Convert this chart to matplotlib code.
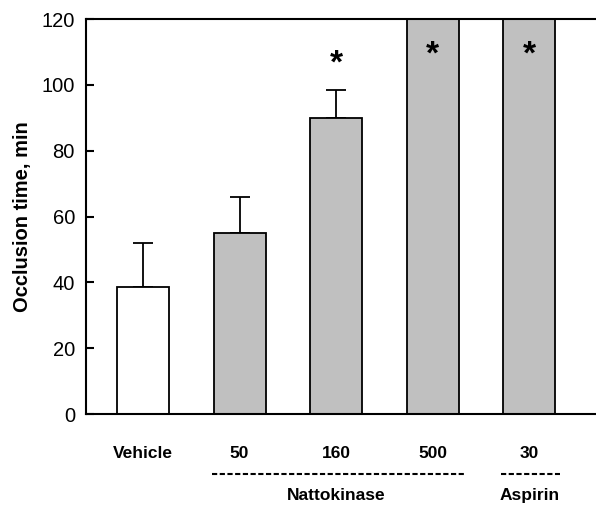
import matplotlib.pyplot as plt
import matplotlib.transforms as mtransforms

plt.rcParams['font.family'] = ['Liberation Sans', 'DejaVu Sans']

labels = ['Vehicle', '50', '160', '500', '30']
values = [38.5, 55, 90, 120, 120]
errors = [13.5, 11, 8.5, 0, 0]
colors = ['white', '#c0c0c0', '#c0c0c0', '#c0c0c0', '#c0c0c0']
significant = [False, False, True, True, True]
groups = [('Nattokinase', 1, 3), ('Aspirin', 4, 4)]

fig = plt.figure(figsize=(5.96, 5.07), dpi=100)
ax = fig.add_axes([0.1443, 0.1834, 0.8557, 0.779])

x = list(range(len(values)))
ax.bar(x, values, width=0.54, color=colors, edgecolor='black', linewidth=1.3, zorder=2)
for xi, v, e in zip(x, values, errors):
    if e > 0:
        ax.errorbar(xi, v, yerr=[[0], [e]], fmt='none', ecolor='black',
                    elinewidth=1.3, capsize=7, capthick=1.3, zorder=1)

# asterisks: above the error bar, or inside the bar when it hits the top
for xi, v, e, s in zip(x, values, errors, significant):
    if not s:
        continue
    if v >= 120:
        y = 109
    else:
        y = v + e + 7.7
    ax.text(xi, y, '*', ha='center', va='center', fontsize=24, fontweight='bold')

ax.set_xlim(-0.59, 4.69)
ax.set_ylim(0, 120)
ax.set_yticks(range(0, 121, 20))
ax.tick_params(axis='y', direction='in', length=6, width=1.5, labelsize=14.5, pad=8)
ax.set_xticks([])
ax.spines['right'].set_visible(False)
for sp in ['left', 'top', 'bottom']:
    ax.spines[sp].set_linewidth(1.5)
ax.set_ylabel('Occlusion time, min', fontsize=14.5, fontweight='bold', labelpad=7)

trans = mtransforms.blended_transform_factory(ax.transData, ax.transAxes)
for xi, lab in zip(x, labels):
    ax.text(xi, -0.099, lab, transform=trans, ha='center', va='center',
            fontsize=12.5, fontweight='bold')
for name, start, end in groups:
    ax.plot([start - 0.29, end + 0.32], [-0.152, -0.152], transform=trans,
            color='black', linewidth=1.5, dashes=(2.5, 1.2), clip_on=False)
    ax.text((start + end) / 2, -0.206, name, transform=trans, ha='center',
            va='center', fontsize=12.5, fontweight='bold')

fig.savefig('out.png', dpi=100)
